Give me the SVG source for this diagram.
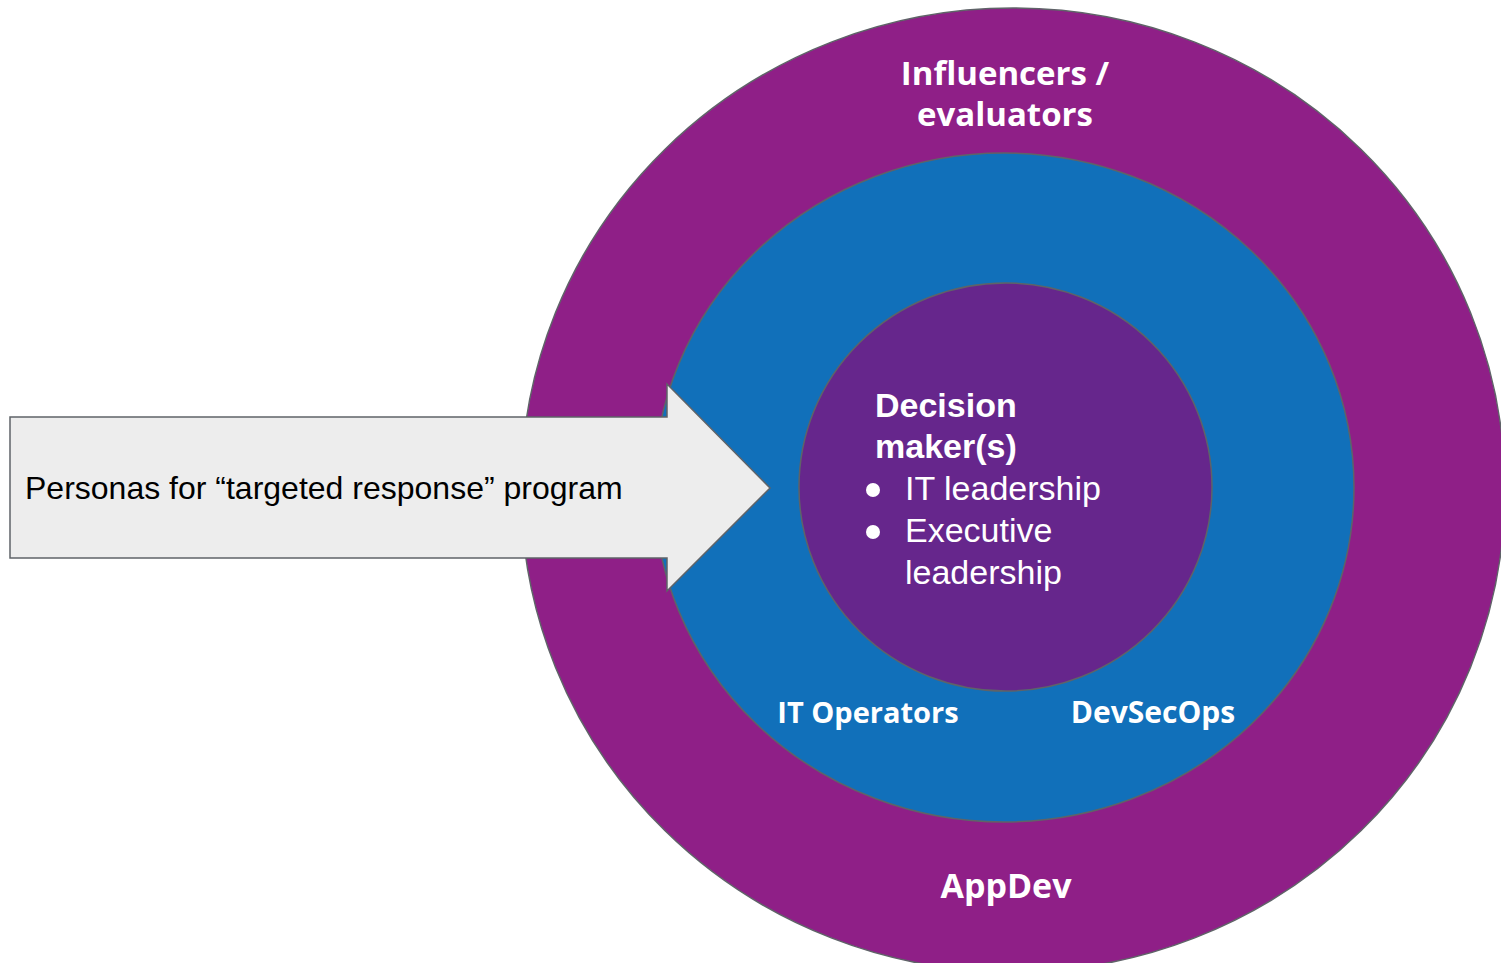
<svg xmlns="http://www.w3.org/2000/svg" width="1501" height="963" viewBox="0 0 1501 963">
  <style>
    .ring { stroke: #5f6368; stroke-width: 1.5; }
    .outer { fill: #8f1f87; }
    .middle { fill: #1170ba; }
    .inner { fill: #66268c; }
    .label { font-family: "Open Sans", "Liberation Sans", sans-serif; font-weight: 700; fill: #ffffff; text-anchor: middle; }
    .body { font-family: "Liberation Sans", Arial, sans-serif; fill: #ffffff; font-size: 34px; }
    .arrow { fill: #ededed; stroke: #5f6368; stroke-width: 1.5; stroke-linejoin: miter; }
    .arrow-text { font-family: "Liberation Sans", Arial, sans-serif; font-size: 32px; fill: #000000; }
  </style>
  <rect width="1501" height="963" fill="#ffffff"/>

  <!-- outer ring: influencers / evaluators -->
  <g id="influencers">
    <ellipse class="ring outer" cx="1013" cy="490" rx="492" ry="482"/>
    <text class="label" font-size="33" x="1005" y="85">Influencers /</text>
    <text class="label" font-size="33" x="1005" y="126">evaluators</text>
    <text class="label" font-size="34" x="1006" y="898">AppDev</text>
  </g>

  <!-- middle ring: operators -->
  <g id="operators">
    <ellipse class="ring middle" cx="1004" cy="487.5" rx="350" ry="334.5"/>
    <text class="label" font-size="29" x="868" y="723">IT Operators</text>
    <text class="label" font-size="30" x="1153" y="723">DevSecOps</text>
  </g>

  <!-- core: decision makers -->
  <g id="decision-makers">
    <ellipse class="ring inner" cx="1005.5" cy="487" rx="206.5" ry="204"/>
    <text class="body" font-weight="700" x="875" y="417">Decision</text>
    <text class="body" font-weight="700" x="875" y="458">maker(s)</text>
    <circle cx="873" cy="490" r="7" fill="#ffffff"/>
    <text class="body" x="905" y="500">IT leadership</text>
    <circle cx="873" cy="532" r="7" fill="#ffffff"/>
    <text class="body" x="905" y="542">Executive</text>
    <text class="body" x="905" y="584">leadership</text>
  </g>

  <!-- block arrow pointing into the core -->
  <g id="connectors">
    <g id="personas-arrow">
      <polygon class="arrow" points="10,417 667,417 667,384 770,488 667,591 667,558 10,558"/>
      <text class="arrow-text" x="25" y="499">Personas for “targeted response” program</text>
    </g>
  </g>
</svg>
